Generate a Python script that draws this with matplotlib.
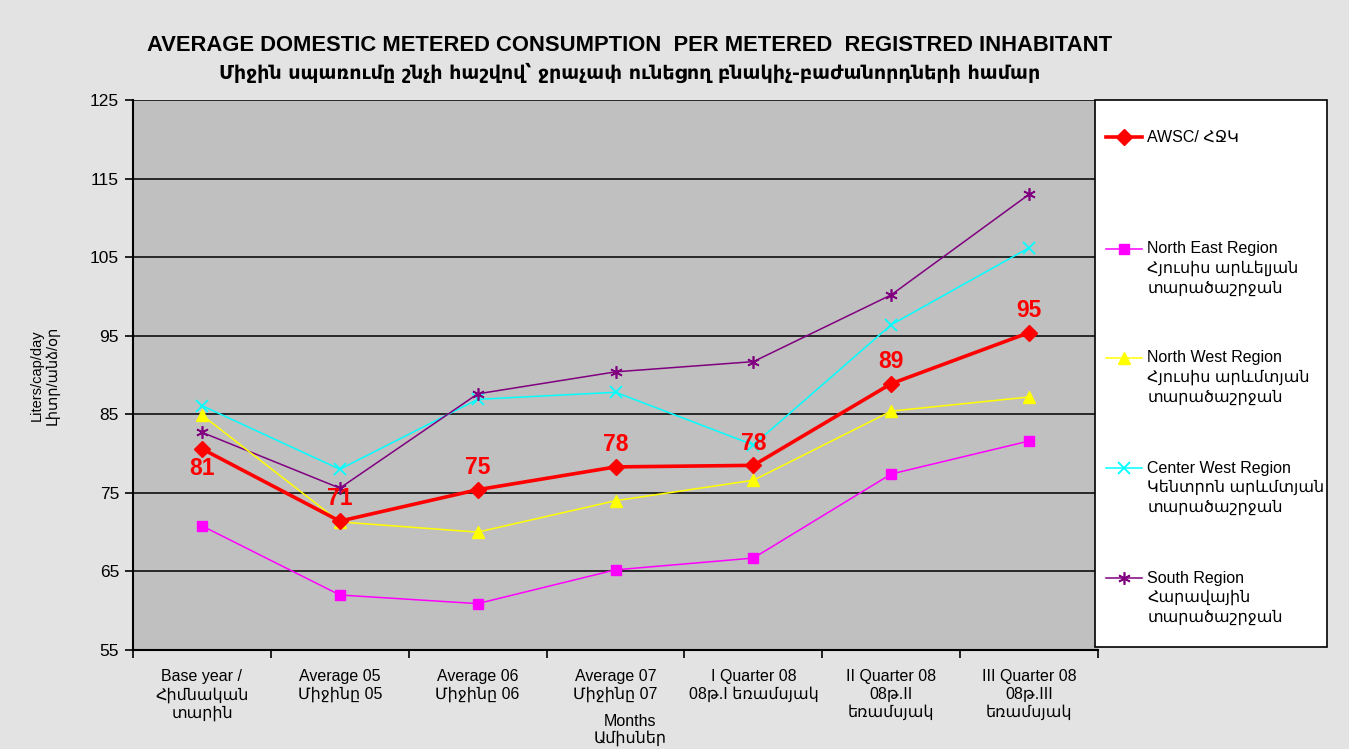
import matplotlib
matplotlib.use("Agg")
import matplotlib.pyplot as plt
from matplotlib.lines import Line2D
from matplotlib.patches import Rectangle

# categories on the x axis
categories = ["Base year /\nՀիմնական\nտարին",
              "Average 05\nՄիջինը 05",
              "Average 06\nՄիջինը 06",
              "Average 07\nՄիջինը 07",
              "I Quarter 08\n08թ.I եռամսյակ",
              "II Quarter 08\n08թ.II\nեռամսյակ",
              "III Quarter 08\n08թ.III\nեռամսյակ"]

# series values (liters/cap/day)
awsc = [80.6, 71.4, 75.4, 78.3, 78.5, 88.9, 95.4]
north_east = [70.8, 62.0, 60.9, 65.2, 66.7, 77.4, 81.6]
north_west = [84.9, 71.3, 70.0, 74.0, 76.6, 85.4, 87.2]
center_west = [86.1, 78.0, 86.9, 87.8, 81.1, 96.4, 106.2]
south = [82.7, 75.6, 87.6, 90.4, 91.7, 100.2, 113.0]

awsc_labels = ["81", "71", "75", "78", "78", "89", "95"]

series_names = ["AWSC/ ՀՋԿ",
                "North East Region\nՀյուսիս արևելյան\nտարածաշրջան",
                "North West Region\nՀյուսիս արևմտյան\nտարածաշրջան",
                "Center West Region\nԿենտրոն արևմտյան\nտարածաշրջան",
                "South Region\nՀարավային\nտարածաշրջան"]

arial = ["Liberation Sans", "DejaVu Sans"]

fig = plt.figure(figsize=(13.49, 7.49), dpi=100)
fig.patch.set_facecolor("#e3e3e3")
ax = fig.add_axes([0.0986, 0.1322, 0.7154, 0.7343])
ax.set_facecolor("#c0c0c0")

x = list(range(len(categories)))
styles = [
    (awsc, dict(color="red", marker="D", markersize=8, linewidth=2.6, zorder=6)),
    (north_east, dict(color="#ff00ff", marker="s", markersize=7, linewidth=1.1, zorder=3)),
    (north_west, dict(color="#ffff00", marker="^", markersize=8, linewidth=1.1, zorder=4)),
    (center_west, dict(color="#00ffff", marker="x", markersize=8, markeredgewidth=1.3, linewidth=1.1, zorder=3)),
    (south, dict(color="#800080", marker=(6, 2, 0), markersize=9, markeredgewidth=1.2, linewidth=1.1, zorder=3)),
]
for vals, kw in styles:
    ax.plot(x, vals, **kw)

# data labels on the AWSC line
for i, (v, lab) in enumerate(zip(awsc, awsc_labels)):
    dy = -14 if i == 0 else 16
    ax.annotate(lab, (i, v), xytext=(0, dy), textcoords="offset points",
                ha="center", va="center", color="red", fontsize=16.5,
                fontweight="bold", family=arial, zorder=7)

ax.set_ylim(55, 125)
ax.set_yticks(range(55, 126, 10))
ax.set_xlim(-0.5, len(categories) - 0.5)
ax.yaxis.grid(True, color="black", linewidth=1.1)
ax.set_axisbelow(True)
ax.tick_params(axis="y", direction="out", length=6, width=1.2, labelsize=12.5, pad=4)
for t in ax.get_yticklabels():
    t.set_family(arial)

ax.set_xticks(x)
ax.set_xticklabels(categories, family=arial, fontsize=11.5, linespacing=1.2)
ax.tick_params(axis="x", length=0, pad=14)
ax.set_xticks([i + 0.5 for i in range(-1, len(categories))], minor=True)
ax.tick_params(axis="x", which="minor", direction="out", length=6, width=1.2)

for side in ["top", "right"]:
    ax.spines[side].set_visible(False)
for side in ["left", "bottom"]:
    ax.spines[side].set_linewidth(1.5)

ax.set_ylabel("Liters/cap/day\nԼիտր/անձ/օր", family=arial, fontsize=10.5,
              labelpad=22, linespacing=1.1)
fig.text(0.467, 0.026, "Months\nԱմիսներ", ha="center", va="center",
         family=arial, fontsize=11.5, linespacing=1.1)

fig.text(0.467, 0.939, "AVERAGE DOMESTIC METERED CONSUMPTION  PER METERED  REGISTRED INHABITANT",
         ha="center", va="center", family=arial, fontsize=15.8, fontweight="bold")
fig.text(0.467, 0.903, "Միջին սպառումը շնչի հաշվով՝ ջրաչափ ունեցող բնակիչ-բաժանորդների համար",
         ha="center", va="center", family=["DejaVu Sans"], fontsize=13.8, fontweight="bold")

# legend box drawn by hand so markers align with first text line
fig.patches.append(Rectangle((0.8117, 0.1362), 0.172, 0.7303, transform=fig.transFigure,
                             facecolor="white", edgecolor="black", linewidth=1.2))
leg_top = [137, 249, 358, 468, 578]
for (vals, kw), name, py in zip(styles, series_names, leg_top):
    yf = 1 - py / 749
    lkw = dict(kw)
    lkw.pop("zorder")
    fig.add_artist(Line2D([0.8195, 0.8333, 0.8465], [yf, yf, yf], transform=fig.transFigure,
                          markevery=[1], **lkw))
    lines = name.split("\n")
    for k, line in enumerate(lines):
        fig.text(0.8505, 1 - (py + 19.5 * k) / 749, line, ha="left", va="center",
                 family=arial, fontsize=11.5)

fig.savefig("out.png", dpi=100, facecolor=fig.get_facecolor())
